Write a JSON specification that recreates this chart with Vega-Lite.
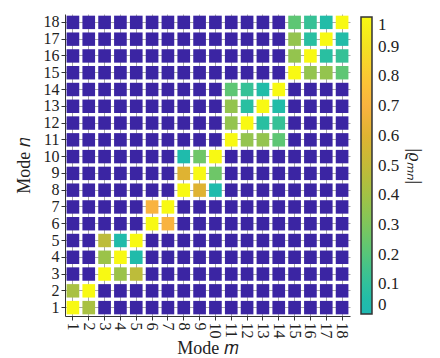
{
  "$schema": "https://vega.github.io/schema/vega-lite/v6.json",
  "autosize": "none",
  "width": 285,
  "height": 302,
  "padding": {"left": 65, "top": 14, "right": 90, "bottom": 42},
  "background": "white",
  "config": {"view": {"stroke": null}, "font": "Liberation Serif"},
  "data": {"values": [
    {"m":1,"n":18,"v":0},{"m":2,"n":18,"v":0},{"m":3,"n":18,"v":0},{"m":4,"n":18,"v":0},{"m":5,"n":18,"v":0},{"m":6,"n":18,"v":0},{"m":7,"n":18,"v":0},{"m":8,"n":18,"v":0},{"m":9,"n":18,"v":0},{"m":10,"n":18,"v":0},{"m":11,"n":18,"v":0},{"m":12,"n":18,"v":0},{"m":13,"n":18,"v":0},{"m":14,"n":18,"v":0},{"m":15,"n":18,"v":0.22},{"m":16,"n":18,"v":0.12},{"m":17,"n":18,"v":0.05},{"m":18,"n":18,"v":1},
    {"m":1,"n":17,"v":0},{"m":2,"n":17,"v":0},{"m":3,"n":17,"v":0},{"m":4,"n":17,"v":0},{"m":5,"n":17,"v":0},{"m":6,"n":17,"v":0},{"m":7,"n":17,"v":0},{"m":8,"n":17,"v":0},{"m":9,"n":17,"v":0},{"m":10,"n":17,"v":0},{"m":11,"n":17,"v":0},{"m":12,"n":17,"v":0},{"m":13,"n":17,"v":0},{"m":14,"n":17,"v":0},{"m":15,"n":17,"v":0.36},{"m":16,"n":17,"v":0.08},{"m":17,"n":17,"v":1},{"m":18,"n":17,"v":0.05},
    {"m":1,"n":16,"v":0},{"m":2,"n":16,"v":0},{"m":3,"n":16,"v":0},{"m":4,"n":16,"v":0},{"m":5,"n":16,"v":0},{"m":6,"n":16,"v":0},{"m":7,"n":16,"v":0},{"m":8,"n":16,"v":0},{"m":9,"n":16,"v":0},{"m":10,"n":16,"v":0},{"m":11,"n":16,"v":0},{"m":12,"n":16,"v":0},{"m":13,"n":16,"v":0},{"m":14,"n":16,"v":0},{"m":15,"n":16,"v":0.36},{"m":16,"n":16,"v":1},{"m":17,"n":16,"v":0.08},{"m":18,"n":16,"v":0.12},
    {"m":1,"n":15,"v":0},{"m":2,"n":15,"v":0},{"m":3,"n":15,"v":0},{"m":4,"n":15,"v":0},{"m":5,"n":15,"v":0},{"m":6,"n":15,"v":0},{"m":7,"n":15,"v":0},{"m":8,"n":15,"v":0},{"m":9,"n":15,"v":0},{"m":10,"n":15,"v":0},{"m":11,"n":15,"v":0},{"m":12,"n":15,"v":0},{"m":13,"n":15,"v":0},{"m":14,"n":15,"v":0},{"m":15,"n":15,"v":1},{"m":16,"n":15,"v":0.36},{"m":17,"n":15,"v":0.36},{"m":18,"n":15,"v":0.22},
    {"m":1,"n":14,"v":0},{"m":2,"n":14,"v":0},{"m":3,"n":14,"v":0},{"m":4,"n":14,"v":0},{"m":5,"n":14,"v":0},{"m":6,"n":14,"v":0},{"m":7,"n":14,"v":0},{"m":8,"n":14,"v":0},{"m":9,"n":14,"v":0},{"m":10,"n":14,"v":0},{"m":11,"n":14,"v":0.22},{"m":12,"n":14,"v":0.12},{"m":13,"n":14,"v":0.05},{"m":14,"n":14,"v":1},{"m":15,"n":14,"v":0},{"m":16,"n":14,"v":0},{"m":17,"n":14,"v":0},{"m":18,"n":14,"v":0},
    {"m":1,"n":13,"v":0},{"m":2,"n":13,"v":0},{"m":3,"n":13,"v":0},{"m":4,"n":13,"v":0},{"m":5,"n":13,"v":0},{"m":6,"n":13,"v":0},{"m":7,"n":13,"v":0},{"m":8,"n":13,"v":0},{"m":9,"n":13,"v":0},{"m":10,"n":13,"v":0},{"m":11,"n":13,"v":0.36},{"m":12,"n":13,"v":0.08},{"m":13,"n":13,"v":1},{"m":14,"n":13,"v":0.05},{"m":15,"n":13,"v":0},{"m":16,"n":13,"v":0},{"m":17,"n":13,"v":0},{"m":18,"n":13,"v":0},
    {"m":1,"n":12,"v":0},{"m":2,"n":12,"v":0},{"m":3,"n":12,"v":0},{"m":4,"n":12,"v":0},{"m":5,"n":12,"v":0},{"m":6,"n":12,"v":0},{"m":7,"n":12,"v":0},{"m":8,"n":12,"v":0},{"m":9,"n":12,"v":0},{"m":10,"n":12,"v":0},{"m":11,"n":12,"v":0.36},{"m":12,"n":12,"v":1},{"m":13,"n":12,"v":0.08},{"m":14,"n":12,"v":0.12},{"m":15,"n":12,"v":0},{"m":16,"n":12,"v":0},{"m":17,"n":12,"v":0},{"m":18,"n":12,"v":0},
    {"m":1,"n":11,"v":0},{"m":2,"n":11,"v":0},{"m":3,"n":11,"v":0},{"m":4,"n":11,"v":0},{"m":5,"n":11,"v":0},{"m":6,"n":11,"v":0},{"m":7,"n":11,"v":0},{"m":8,"n":11,"v":0},{"m":9,"n":11,"v":0},{"m":10,"n":11,"v":0},{"m":11,"n":11,"v":1},{"m":12,"n":11,"v":0.36},{"m":13,"n":11,"v":0.36},{"m":14,"n":11,"v":0.22},{"m":15,"n":11,"v":0},{"m":16,"n":11,"v":0},{"m":17,"n":11,"v":0},{"m":18,"n":11,"v":0},
    {"m":1,"n":10,"v":0},{"m":2,"n":10,"v":0},{"m":3,"n":10,"v":0},{"m":4,"n":10,"v":0},{"m":5,"n":10,"v":0},{"m":6,"n":10,"v":0},{"m":7,"n":10,"v":0},{"m":8,"n":10,"v":0.03},{"m":9,"n":10,"v":0.26},{"m":10,"n":10,"v":1},{"m":11,"n":10,"v":0},{"m":12,"n":10,"v":0},{"m":13,"n":10,"v":0},{"m":14,"n":10,"v":0},{"m":15,"n":10,"v":0},{"m":16,"n":10,"v":0},{"m":17,"n":10,"v":0},{"m":18,"n":10,"v":0},
    {"m":1,"n":9,"v":0},{"m":2,"n":9,"v":0},{"m":3,"n":9,"v":0},{"m":4,"n":9,"v":0},{"m":5,"n":9,"v":0},{"m":6,"n":9,"v":0},{"m":7,"n":9,"v":0},{"m":8,"n":9,"v":0.6},{"m":9,"n":9,"v":1},{"m":10,"n":9,"v":0.26},{"m":11,"n":9,"v":0},{"m":12,"n":9,"v":0},{"m":13,"n":9,"v":0},{"m":14,"n":9,"v":0},{"m":15,"n":9,"v":0},{"m":16,"n":9,"v":0},{"m":17,"n":9,"v":0},{"m":18,"n":9,"v":0},
    {"m":1,"n":8,"v":0},{"m":2,"n":8,"v":0},{"m":3,"n":8,"v":0},{"m":4,"n":8,"v":0},{"m":5,"n":8,"v":0},{"m":6,"n":8,"v":0},{"m":7,"n":8,"v":0},{"m":8,"n":8,"v":1},{"m":9,"n":8,"v":0.6},{"m":10,"n":8,"v":0.03},{"m":11,"n":8,"v":0},{"m":12,"n":8,"v":0},{"m":13,"n":8,"v":0},{"m":14,"n":8,"v":0},{"m":15,"n":8,"v":0},{"m":16,"n":8,"v":0},{"m":17,"n":8,"v":0},{"m":18,"n":8,"v":0},
    {"m":1,"n":7,"v":0},{"m":2,"n":7,"v":0},{"m":3,"n":7,"v":0},{"m":4,"n":7,"v":0},{"m":5,"n":7,"v":0},{"m":6,"n":7,"v":0.7},{"m":7,"n":7,"v":1},{"m":8,"n":7,"v":0},{"m":9,"n":7,"v":0},{"m":10,"n":7,"v":0},{"m":11,"n":7,"v":0},{"m":12,"n":7,"v":0},{"m":13,"n":7,"v":0},{"m":14,"n":7,"v":0},{"m":15,"n":7,"v":0},{"m":16,"n":7,"v":0},{"m":17,"n":7,"v":0},{"m":18,"n":7,"v":0},
    {"m":1,"n":6,"v":0},{"m":2,"n":6,"v":0},{"m":3,"n":6,"v":0},{"m":4,"n":6,"v":0},{"m":5,"n":6,"v":0},{"m":6,"n":6,"v":1},{"m":7,"n":6,"v":0.7},{"m":8,"n":6,"v":0},{"m":9,"n":6,"v":0},{"m":10,"n":6,"v":0},{"m":11,"n":6,"v":0},{"m":12,"n":6,"v":0},{"m":13,"n":6,"v":0},{"m":14,"n":6,"v":0},{"m":15,"n":6,"v":0},{"m":16,"n":6,"v":0},{"m":17,"n":6,"v":0},{"m":18,"n":6,"v":0},
    {"m":1,"n":5,"v":0},{"m":2,"n":5,"v":0},{"m":3,"n":5,"v":0.48},{"m":4,"n":5,"v":0.04},{"m":5,"n":5,"v":1},{"m":6,"n":5,"v":0},{"m":7,"n":5,"v":0},{"m":8,"n":5,"v":0},{"m":9,"n":5,"v":0},{"m":10,"n":5,"v":0},{"m":11,"n":5,"v":0},{"m":12,"n":5,"v":0},{"m":13,"n":5,"v":0},{"m":14,"n":5,"v":0},{"m":15,"n":5,"v":0},{"m":16,"n":5,"v":0},{"m":17,"n":5,"v":0},{"m":18,"n":5,"v":0},
    {"m":1,"n":4,"v":0},{"m":2,"n":4,"v":0},{"m":3,"n":4,"v":0.38},{"m":4,"n":4,"v":1},{"m":5,"n":4,"v":0.04},{"m":6,"n":4,"v":0},{"m":7,"n":4,"v":0},{"m":8,"n":4,"v":0},{"m":9,"n":4,"v":0},{"m":10,"n":4,"v":0},{"m":11,"n":4,"v":0},{"m":12,"n":4,"v":0},{"m":13,"n":4,"v":0},{"m":14,"n":4,"v":0},{"m":15,"n":4,"v":0},{"m":16,"n":4,"v":0},{"m":17,"n":4,"v":0},{"m":18,"n":4,"v":0},
    {"m":1,"n":3,"v":0},{"m":2,"n":3,"v":0},{"m":3,"n":3,"v":1},{"m":4,"n":3,"v":0.38},{"m":5,"n":3,"v":0.48},{"m":6,"n":3,"v":0},{"m":7,"n":3,"v":0},{"m":8,"n":3,"v":0},{"m":9,"n":3,"v":0},{"m":10,"n":3,"v":0},{"m":11,"n":3,"v":0},{"m":12,"n":3,"v":0},{"m":13,"n":3,"v":0},{"m":14,"n":3,"v":0},{"m":15,"n":3,"v":0},{"m":16,"n":3,"v":0},{"m":17,"n":3,"v":0},{"m":18,"n":3,"v":0},
    {"m":1,"n":2,"v":0.42},{"m":2,"n":2,"v":1},{"m":3,"n":2,"v":0},{"m":4,"n":2,"v":0},{"m":5,"n":2,"v":0},{"m":6,"n":2,"v":0},{"m":7,"n":2,"v":0},{"m":8,"n":2,"v":0},{"m":9,"n":2,"v":0},{"m":10,"n":2,"v":0},{"m":11,"n":2,"v":0},{"m":12,"n":2,"v":0},{"m":13,"n":2,"v":0},{"m":14,"n":2,"v":0},{"m":15,"n":2,"v":0},{"m":16,"n":2,"v":0},{"m":17,"n":2,"v":0},{"m":18,"n":2,"v":0},
    {"m":1,"n":1,"v":1},{"m":2,"n":1,"v":0.42},{"m":3,"n":1,"v":0},{"m":4,"n":1,"v":0},{"m":5,"n":1,"v":0},{"m":6,"n":1,"v":0},{"m":7,"n":1,"v":0},{"m":8,"n":1,"v":0},{"m":9,"n":1,"v":0},{"m":10,"n":1,"v":0},{"m":11,"n":1,"v":0},{"m":12,"n":1,"v":0},{"m":13,"n":1,"v":0},{"m":14,"n":1,"v":0},{"m":15,"n":1,"v":0},{"m":16,"n":1,"v":0},{"m":17,"n":1,"v":0},{"m":18,"n":1,"v":0}
  ]},
  "mark": {"type": "rect"},
  "encoding": {
    "x": {
      "field": "m", "type": "ordinal",
      "scale": {"paddingInner": 0.2, "paddingOuter": 0.1},
      "axis": {
        "title": "Mode 𝑚", "labelAngle": 90, "labelFontSize": 16, "titleFontSize": 18,
        "titleFontWeight": "normal", "grid": true, "gridColor": "#a8a8a8", "gridWidth": 1,
        "domainColor": "#333", "tickColor": "#333", "tickSize": 4, "labelColor": "#222",
        "titleColor": "#222", "labelPadding": 2, "titlePadding": 1, "zindex": 0
      }
    },
    "y": {
      "field": "n", "type": "ordinal", "sort": "descending",
      "scale": {"paddingInner": 0.2, "paddingOuter": 0.1},
      "axis": {
        "title": "Mode 𝑛", "labelAngle": 0, "labelFontSize": 16, "titleFontSize": 18,
        "titleFontWeight": "normal", "grid": true, "gridColor": "#a8a8a8", "gridWidth": 1,
        "domainColor": "#333", "tickColor": "#333", "tickSize": 4, "labelColor": "#222",
        "titleColor": "#222", "labelPadding": 2, "titlePadding": 10, "zindex": 0
      }
    },
    "color": {
      "condition": {
        "test": "datum.v > 0",
        "field": "v", "type": "quantitative",
        "scale": {
          "domain": [0, 0.1, 0.2, 0.3, 0.4, 0.5, 0.6, 0.7, 0.8, 0.9, 1],
          "range": ["#1fb8b2", "#30c09c", "#56c67a", "#7ec65c", "#a2c245", "#c3ba38", "#dfb332", "#f9b33f", "#fbc833", "#f4e221", "#f8f913"]
        },
        "legend": {
          "type": "gradient", "orient": "none", "legendX": 296, "legendY": 3,
          "direction": "vertical", "gradientLength": 297, "gradientThickness": 11,
          "gradientStrokeColor": "#333", "gradientStrokeWidth": 1.5,
          "values": [0, 0.1, 0.2, 0.3, 0.4, 0.5, 0.6, 0.7, 0.8, 0.9, 1],
          "format": "~g", "labelFontSize": 17, "labelOffset": 6, "labelBaseline": "middle",
          "labelOverlap": false, "labelColor": "#222",
          "title": "|ϱₘₙ|", "titleOrient": "right", "titleAngle": 270, "titleFontSize": 18,
          "titleFontWeight": "normal", "titleFontStyle": "italic", "titleAnchor": "middle",
          "titlePadding": 6, "titleColor": "#222"
        }
      },
      "value": "#3b25a3"
    }
  }
}
